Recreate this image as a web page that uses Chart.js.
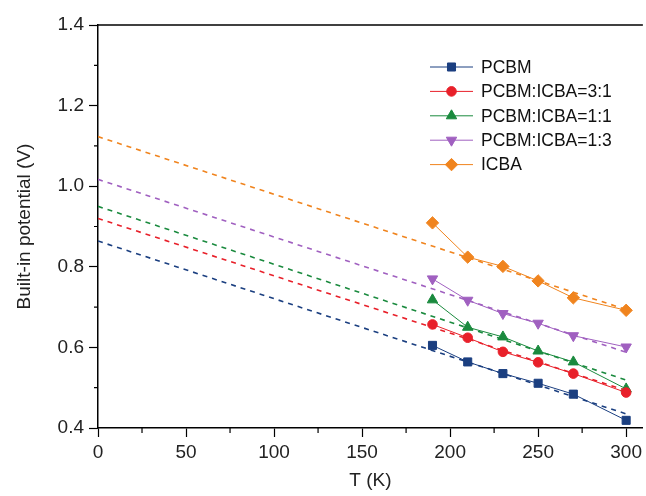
<!DOCTYPE html>
<html lang="en">
<head>
  <meta charset="UTF-8" />
  <title>Built-in potential vs temperature</title>
  <script src="https://cdn.jsdelivr.net/npm/chart.js"></script>
  <style>
    body { margin: 0; background: #fff; }
    .wrap { width: 646px; height: 496px; }
  </style>
</head>
<body>
  <div class="wrap"><canvas id="vbiChart"></canvas></div>

  <script>
    // measured points
    const temps = [190, 210, 230, 250, 270, 300];
    const seriesNames = ['PCBM', 'PCBM:ICBA=3:1', 'PCBM:ICBA=1:1', 'PCBM:ICBA=1:3', 'ICBA'];
    const pcbm   = [0.605, 0.564, 0.535, 0.511, 0.484, 0.419];
    const ratio31 = [0.657, 0.624, 0.589, 0.563, 0.535, 0.488];
    const ratio11 = [0.718, 0.650, 0.626, 0.591, 0.564, 0.497];
    const ratio13 = [0.770, 0.717, 0.684, 0.660, 0.629, 0.601];
    const icba   = [0.909, 0.824, 0.801, 0.765, 0.723, 0.692];

    // linear fits extrapolated to T = 0
    const fitT = [0, 300];
    const pcbmFit   = [0.864, 0.435];
    const ratio31Fit = [0.920, 0.493];
    const ratio11Fit = [0.950, 0.519];
    const ratio13Fit = [1.017, 0.588];
    const icbaFit   = [1.123, 0.694];

    const xTicks = [0, 50, 100, 150, 200, 250, 300];
    const yTicks = [0.4, 0.6, 0.8, 1.0, 1.2, 1.4];

    const colors = ['#1b3f80', '#e8202a', '#1a8a3e', '#a060c0', '#f0841e'];
    const styles = [
      { pointStyle: 'rect', radius: 5.7, rotation: 0 },
      { pointStyle: 'circle', radius: 4.8, rotation: 0 },
      { pointStyle: 'triangle', radius: 6, rotation: 0 },
      { pointStyle: 'triangle', radius: 6, rotation: 180 },
      { pointStyle: 'rectRot', radius: 6.2, rotation: 0 }
    ];
    const measured = [pcbm, ratio31, ratio11, ratio13, icba];
    const fits = [pcbmFit, ratio31Fit, ratio11Fit, ratio13Fit, icbaFit];

    const font = '"Liberation Sans", Arial, sans-serif';

    const datasets = [];
    measured.forEach((vals, i) => {
      datasets.push({
        label: seriesNames[i],
        data: temps.map((t, k) => ({ x: t, y: vals[k] })),
        borderColor: colors[i],
        backgroundColor: colors[i],
        borderWidth: 1,
        pointStyle: styles[i].pointStyle,
        pointRadius: styles[i].radius,
        pointRotation: styles[i].rotation,
        pointBorderWidth: 1,
        pointHoverRadius: styles[i].radius,
        order: 1
      });
    });
    fits.forEach((vals, i) => {
      datasets.push({
        label: seriesNames[i] + ' fit',
        data: fitT.map((t, k) => ({ x: t, y: vals[k] })),
        borderColor: colors[i],
        borderWidth: 1.6,
        borderDash: [5, 5],
        pointRadius: 0,
        order: 2
      });
    });

    // legend drawn inside the plot, line + marker like the original
    const insideLegend = {
      id: 'insideLegend',
      afterDraw(chart) {
        const ctx = chart.ctx;
        const a = chart.chartArea;
        const x0 = a.left + 332, x1 = a.left + 375, tx = a.left + 383;
        ctx.save();
        seriesNames.forEach((name, i) => {
          const y = a.top + 42 + i * 24.4;
          ctx.strokeStyle = colors[i];
          ctx.lineWidth = 1;
          ctx.beginPath();
          ctx.moveTo(x0, y);
          ctx.lineTo(x1, y);
          ctx.stroke();
          ctx.fillStyle = colors[i];
          Chart.helpers.drawPoint(ctx, {
            pointStyle: styles[i].pointStyle,
            radius: styles[i].radius,
            rotation: styles[i].rotation,
            borderWidth: 1
          }, (x0 + x1) / 2, y);
          ctx.fillStyle = '#111';
          ctx.font = '17.5px ' + font;
          ctx.textBaseline = 'middle';
          ctx.fillText(name, tx, y + 1);
        });
        ctx.restore();
      }
    };

    // top frame line and short minor ticks
    const frame = {
      id: 'frame',
      afterDraw(chart) {
        const ctx = chart.ctx;
        const a = chart.chartArea;
        const xs = chart.scales.x, ys = chart.scales.y;
        ctx.save();
        ctx.strokeStyle = '#000';
        ctx.lineWidth = 1.5;
        ctx.beginPath();
        ctx.moveTo(a.left, a.top);
        ctx.lineTo(a.right, a.top);
        ctx.stroke();
        ctx.lineWidth = 1.2;
        ctx.beginPath();
        for (let i = 0; i < xTicks.length - 1; i++) {
          const px = xs.getPixelForValue((xTicks[i] + xTicks[i + 1]) / 2);
          ctx.moveTo(px, a.bottom);
          ctx.lineTo(px, a.bottom + 5);
        }
        for (let i = 0; i < yTicks.length - 1; i++) {
          const py = ys.getPixelForValue((yTicks[i] + yTicks[i + 1]) / 2);
          ctx.moveTo(a.left, py);
          ctx.lineTo(a.left - 4, py);
        }
        ctx.stroke();
        ctx.restore();
      }
    };

    new Chart(document.getElementById('vbiChart'), {
      type: 'line',
      data: { datasets: datasets },
      plugins: [insideLegend, frame],
      options: {
        responsive: true,
        maintainAspectRatio: false,
        animation: false,
        layout: { autoPadding: false, padding: { top: 25, right: 0, bottom: 0, left: 0 } },
        plugins: {
          legend: { display: false },
          tooltip: { enabled: false }
        },
        scales: {
          x: {
            type: 'linear',
            min: 0,
            max: 309.5,
            afterBuildTicks: s => { s.ticks = xTicks.map(v => ({ value: v })); },
            afterFit: s => { s.height = 68; },
            border: { color: '#000', width: 1.5 },
            grid: { drawOnChartArea: false, tickLength: 9, tickColor: '#000', tickWidth: 1.2 },
            ticks: {
              color: '#222',
              padding: 4,
              maxRotation: 0,
              font: { family: font, size: 19 },
              callback: v => v
            },
            title: {
              display: true,
              text: 'T (K)',
              color: '#222',
              font: { family: font, size: 19 },
              padding: { top: 4 }
            }
          },
          y: {
            min: 0.4,
            max: 1.4,
            afterBuildTicks: s => { s.ticks = yTicks.map(v => ({ value: v })); },
            afterFit: s => { s.width = 98; },
            border: { color: '#000', width: 1.5 },
            grid: { drawOnChartArea: false, tickLength: 9, tickColor: '#000', tickWidth: 1.2 },
            ticks: {
              color: '#222',
              padding: 5,
              font: { family: font, size: 19 },
              callback: v => v.toFixed(1)
            },
            title: {
              display: true,
              text: 'Built-in potential (V)',
              color: '#222',
              font: { family: font, size: 19 },
              padding: { top: 13, bottom: 0 }
            }
          }
        }
      }
    });
  </script>
</body>
</html>
